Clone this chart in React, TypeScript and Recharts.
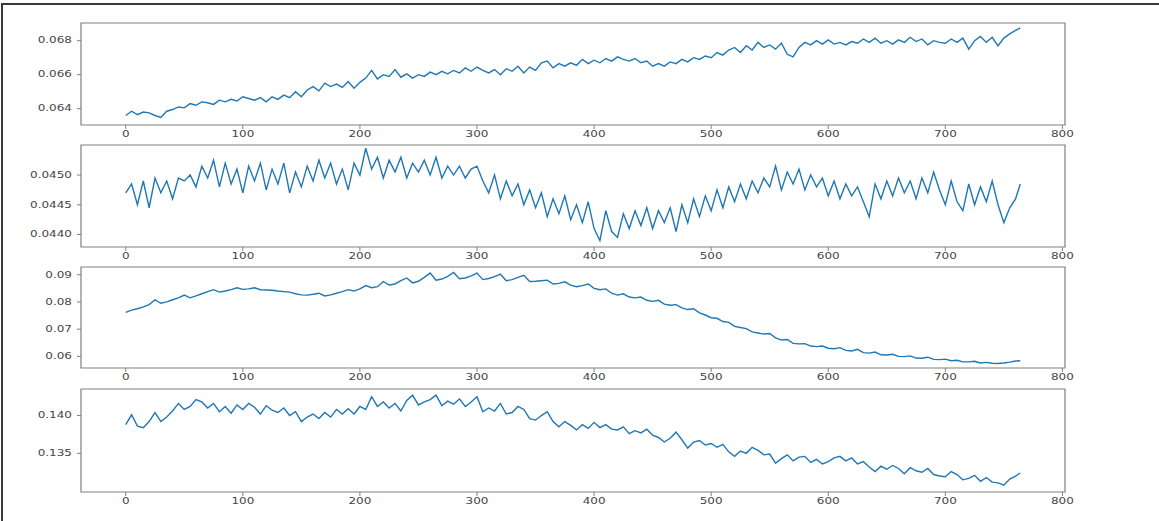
import { LineChart, Line, XAxis, YAxis, ReferenceArea } from 'recharts';

// sample spacing along x (last sample sits at 764)
const STEP = 5;
const LAST_X = 764;

const xTicks = [0, 100, 200, 300, 400, 500, 600, 700, 800];

const series1 = [
  0.0636, 0.06385, 0.06365, 0.0638, 0.06375, 0.0636, 0.06348, 0.06385, 0.06395, 0.0641,
  0.06405, 0.0643, 0.0642, 0.0644, 0.06435, 0.06425, 0.0645, 0.0644, 0.06455, 0.06445,
  0.0647, 0.0646, 0.0645, 0.06465, 0.0644, 0.0647, 0.06455, 0.0648, 0.06465, 0.065,
  0.0647, 0.0651, 0.0653, 0.06505, 0.0655, 0.0653, 0.06545, 0.06525, 0.0656, 0.0652,
  0.06555, 0.0658, 0.06625, 0.06575, 0.066, 0.0659, 0.0663, 0.06585, 0.06605, 0.0658,
  0.066, 0.0659, 0.06615, 0.066, 0.0662, 0.06605, 0.06625, 0.0661, 0.0664, 0.0662,
  0.06645, 0.06625, 0.0661, 0.0663, 0.066, 0.06635, 0.0662, 0.0665, 0.0661, 0.06645,
  0.06625, 0.0667, 0.0668, 0.0664, 0.06665, 0.0665, 0.0667, 0.06655, 0.0669, 0.06665,
  0.06685, 0.0667, 0.06695, 0.0668, 0.06705, 0.0669, 0.0668, 0.06695, 0.0667, 0.0668,
  0.0665, 0.06665, 0.0665, 0.06675, 0.06665, 0.0669, 0.06675, 0.067, 0.0669, 0.0671,
  0.067, 0.0673, 0.06715, 0.06745, 0.0676, 0.0673, 0.0677, 0.06745, 0.0679, 0.0676,
  0.06775, 0.0675, 0.06785, 0.0672, 0.06705, 0.0676, 0.0679, 0.06775, 0.068, 0.0678,
  0.06805, 0.0678, 0.0679, 0.06775, 0.06795, 0.06785, 0.0681, 0.0679, 0.06815, 0.06785,
  0.068, 0.0678, 0.06805, 0.0679, 0.0682, 0.06795, 0.0681, 0.06775, 0.068, 0.0679,
  0.06785, 0.0681, 0.0679, 0.06815, 0.0675, 0.068, 0.06825, 0.0679, 0.0682, 0.0677,
  0.06815, 0.0684, 0.0686, 0.06875,
];

const series2 = [
  0.0447, 0.04485, 0.0445, 0.0449, 0.04445, 0.04495, 0.0447, 0.0449, 0.0446, 0.04495,
  0.0449, 0.045, 0.0448, 0.04515, 0.04495, 0.04525, 0.0448, 0.0452, 0.04485, 0.0451,
  0.0447, 0.04515, 0.0449, 0.0452, 0.04475, 0.0451, 0.04485, 0.0452, 0.0447, 0.04505,
  0.0448, 0.04515, 0.0449, 0.04525, 0.04495, 0.0452, 0.04485, 0.0451, 0.04475, 0.0452,
  0.045, 0.04545, 0.0451, 0.0453, 0.04495, 0.04525, 0.04505, 0.0453, 0.04495, 0.0452,
  0.04505, 0.04525, 0.045, 0.0453, 0.04495, 0.04515, 0.045, 0.04515, 0.04495, 0.0451,
  0.04515, 0.0449, 0.0447, 0.045, 0.0446, 0.0449, 0.04465, 0.04485, 0.0445, 0.04475,
  0.04445, 0.0447, 0.0443, 0.0446, 0.04435, 0.04465, 0.04425, 0.0445, 0.0442, 0.04455,
  0.0441, 0.0439, 0.0444, 0.04405, 0.04395, 0.04435, 0.0441, 0.0444, 0.04415, 0.04445,
  0.0441, 0.0444, 0.0442, 0.04445, 0.04405, 0.0445, 0.0442, 0.0446, 0.0443, 0.04465,
  0.0444, 0.04475, 0.04445, 0.0448, 0.04455, 0.04485, 0.0446, 0.0449, 0.0447, 0.04495,
  0.0448, 0.04515, 0.04475, 0.04505, 0.04485, 0.0451, 0.04475, 0.045, 0.0448, 0.04495,
  0.04465, 0.0449, 0.0446, 0.04485, 0.04465, 0.0448, 0.04455, 0.0443, 0.04485, 0.0446,
  0.0449, 0.04465, 0.04495, 0.0447, 0.0449, 0.0446, 0.04495, 0.0447, 0.04505, 0.04475,
  0.0445, 0.0449, 0.04455, 0.0444, 0.04485, 0.0445, 0.0448, 0.04455, 0.0449, 0.0445,
  0.0442, 0.04445, 0.0446, 0.04485,
];

const series3 = [
  0.0762, 0.077, 0.0775, 0.0782, 0.079, 0.0808, 0.0795, 0.08, 0.0808, 0.0815,
  0.0825, 0.0815, 0.0822, 0.083, 0.0838, 0.0845, 0.0836, 0.084, 0.0845, 0.0852,
  0.0846, 0.0848, 0.0852, 0.0845, 0.0844, 0.0843, 0.084, 0.0838, 0.0836, 0.083,
  0.0826, 0.0825, 0.0828, 0.0832, 0.0822, 0.0826, 0.0832, 0.0838, 0.0845, 0.084,
  0.0848, 0.086, 0.0852, 0.0856, 0.0875, 0.0862, 0.0866, 0.0878, 0.0888, 0.087,
  0.0876, 0.089, 0.0906, 0.088, 0.0884, 0.0894, 0.0908, 0.0885, 0.0888, 0.0896,
  0.0906, 0.0882, 0.0886, 0.0893, 0.0902, 0.0878, 0.0882, 0.089, 0.0898, 0.0875,
  0.0876, 0.0878, 0.088, 0.0866, 0.0868, 0.0874, 0.0862, 0.0856, 0.086, 0.0866,
  0.085, 0.0845, 0.0848, 0.0832, 0.0825, 0.083, 0.0818, 0.0815, 0.0818, 0.0806,
  0.0802, 0.0806, 0.0792, 0.0788, 0.079, 0.0778, 0.0772, 0.0775, 0.076, 0.0752,
  0.0742, 0.074, 0.0728, 0.0725, 0.071, 0.0706, 0.0702, 0.069, 0.0686, 0.0682,
  0.0684, 0.0668, 0.066, 0.0662, 0.0648, 0.0646, 0.0647, 0.0638, 0.0636, 0.0638,
  0.063, 0.0628, 0.0632, 0.0622, 0.062, 0.0626, 0.0614, 0.0612, 0.0616, 0.0606,
  0.0605, 0.0608, 0.06, 0.0599, 0.0602, 0.0594, 0.0593, 0.0597, 0.0589, 0.0588,
  0.059, 0.0584, 0.0586, 0.058, 0.058, 0.0582, 0.0576, 0.0578, 0.0575, 0.0574,
  0.0576, 0.0579, 0.0583, 0.0584,
];

const series4 = [
  0.1388, 0.1401, 0.1386, 0.1384, 0.1392, 0.1404, 0.1392, 0.1398, 0.1406, 0.1416,
  0.1408, 0.1412, 0.1421, 0.1418, 0.141, 0.1416, 0.1405, 0.1412, 0.1403, 0.1414,
  0.1408, 0.1416, 0.1411, 0.1402, 0.1413, 0.1407, 0.1404, 0.141, 0.14, 0.1405,
  0.1392, 0.1398, 0.1402, 0.1396, 0.1404, 0.1398, 0.1408, 0.1402, 0.1409, 0.1402,
  0.1412, 0.1408, 0.1425, 0.1412, 0.1418, 0.141, 0.1416, 0.1406, 0.142, 0.1427,
  0.1414, 0.1418, 0.1421, 0.1427, 0.1413, 0.1419, 0.1415, 0.1422, 0.1412, 0.1418,
  0.1425, 0.1405, 0.141, 0.1406, 0.1416, 0.1402, 0.1404, 0.1412, 0.1408, 0.1396,
  0.1394, 0.14, 0.1405, 0.1392, 0.1385, 0.1392, 0.1387, 0.1381, 0.1388, 0.1383,
  0.1391, 0.1384, 0.1388, 0.1382, 0.1381, 0.1385, 0.1376, 0.138, 0.1377, 0.1382,
  0.1374, 0.1371, 0.1365, 0.137, 0.1378, 0.1368, 0.1357, 0.1365, 0.1367, 0.1361,
  0.1363, 0.1358, 0.1362, 0.1352, 0.1346, 0.1353, 0.135, 0.1358, 0.1354, 0.1348,
  0.1349, 0.1337, 0.1343, 0.1348, 0.134, 0.1345, 0.1346, 0.1338, 0.1342, 0.1336,
  0.1339, 0.1344, 0.1346, 0.134, 0.1344, 0.1336, 0.1339, 0.1332, 0.1326, 0.1333,
  0.1329, 0.1334, 0.133, 0.1323, 0.1331, 0.1327, 0.1325, 0.133, 0.1322, 0.132,
  0.1319, 0.1326, 0.1322, 0.1315, 0.1317, 0.1321, 0.1313, 0.1318, 0.1312, 0.1311,
  0.1308, 0.1316, 0.132, 0.1324,
];

const ticks1 = [0.064, 0.066, 0.068];
const ticks2 = [0.044, 0.0445, 0.045];
const ticks3 = [0.06, 0.07, 0.08, 0.09];
const ticks4 = [0.135, 0.14];

const X_DOMAIN: [number, number] = [-38.2, 802.2];
const PLOT_LEFT = 81;
const PLOT_RIGHT = 1065;
const W = 1159;

const panels = [
  { values: series1, yTicks: ticks1, digits: 3, domain: [0.06304, 0.06904], top: 23, bottom: 125 },
  { values: series2, yTicks: ticks2, digits: 4, domain: [0.04379, 0.045505], top: 145, bottom: 247 },
  { values: series3, yTicks: ticks3, digits: 2, domain: [0.05574, 0.09283], top: 267, bottom: 368 },
  { values: series4, yTicks: ticks4, digits: 3, domain: [0.12989, 0.14351], top: 389, bottom: 492 },
];

const TEXT = '#444';
const FRAME = '#808080';

function YTick(props: any) {
  const { x, y, payload, digits } = props;
  return (
    <text
      transform={`translate(${x},${y}) scale(1.5,1)`}
      textAnchor="end"
      dy="0.35em"
      fontSize={8}
      fontFamily="DejaVu Sans"
      fill={TEXT}
    >
      {Number(payload.value).toFixed(digits)}
    </text>
  );
}

function XTick(props: any) {
  const { x, y, payload } = props;
  return (
    <text
      transform={`translate(${x},${y}) scale(1.5,1)`}
      textAnchor="middle"
      dy="0.71em"
      fontSize={8}
      fontFamily="DejaVu Sans"
      fill={TEXT}
    >
      {payload.value}
    </text>
  );
}

function Panel({ values, yTicks, digits, domain, top, bottom }: any) {
  const data = values.map((v: number, i: number) => ({
    x: i === values.length - 1 ? LAST_X : i * STEP,
    v,
  }));
  const pad = 5;
  const xAxisH = 22;
  const h = bottom - top + pad + xAxisH;
  return (
    <div style={{ position: 'absolute', left: 0, top: top - pad, width: W, height: h }}>
      <LineChart
        width={W}
        height={h}
        data={data}
        margin={{ top: pad, right: W - PLOT_RIGHT, bottom: 0, left: 0 }}
      >
        <XAxis
          dataKey="x"
          type="number"
          domain={X_DOMAIN}
          ticks={xTicks}
          allowDataOverflow
          axisLine={false}
          tickLine={{ stroke: FRAME }}
          tickSize={4}
          tickMargin={2}
          height={xAxisH}
          tick={(p: any) => <XTick {...p} />}
        />
        <YAxis
          type="number"
          domain={domain}
          ticks={yTicks}
          allowDataOverflow
          axisLine={false}
          tickLine={{ stroke: FRAME }}
          tickSize={4}
          tickMargin={5}
          width={PLOT_LEFT}
          tick={(p: any) => <YTick {...p} digits={digits} />}
        />
        <ReferenceArea
          x1={X_DOMAIN[0]}
          x2={X_DOMAIN[1]}
          y1={domain[0]}
          y2={domain[1]}
          fill="none"
          stroke={FRAME}
          strokeWidth={1.2}
        />
        <Line
          type="linear"
          dataKey="v"
          stroke="#1f77b4"
          strokeWidth={1.4}
          dot={false}
          isAnimationActive={false}
        />
      </LineChart>
    </div>
  );
}

export default function App() {
  return (
    <div style={{ position: 'absolute', left: 0, top: 0, width: W, height: 521, background: '#fff' }}>
      <div
        style={{
          position: 'absolute',
          left: 1,
          top: 3,
          width: W - 1,
          height: 518,
          borderTop: '2px solid #3a3a3a',
          borderLeft: '2px solid #3a3a3a',
        }}
      />
      {panels.map((p, i) => (
        <Panel key={i} {...p} />
      ))}
    </div>
  );
}
